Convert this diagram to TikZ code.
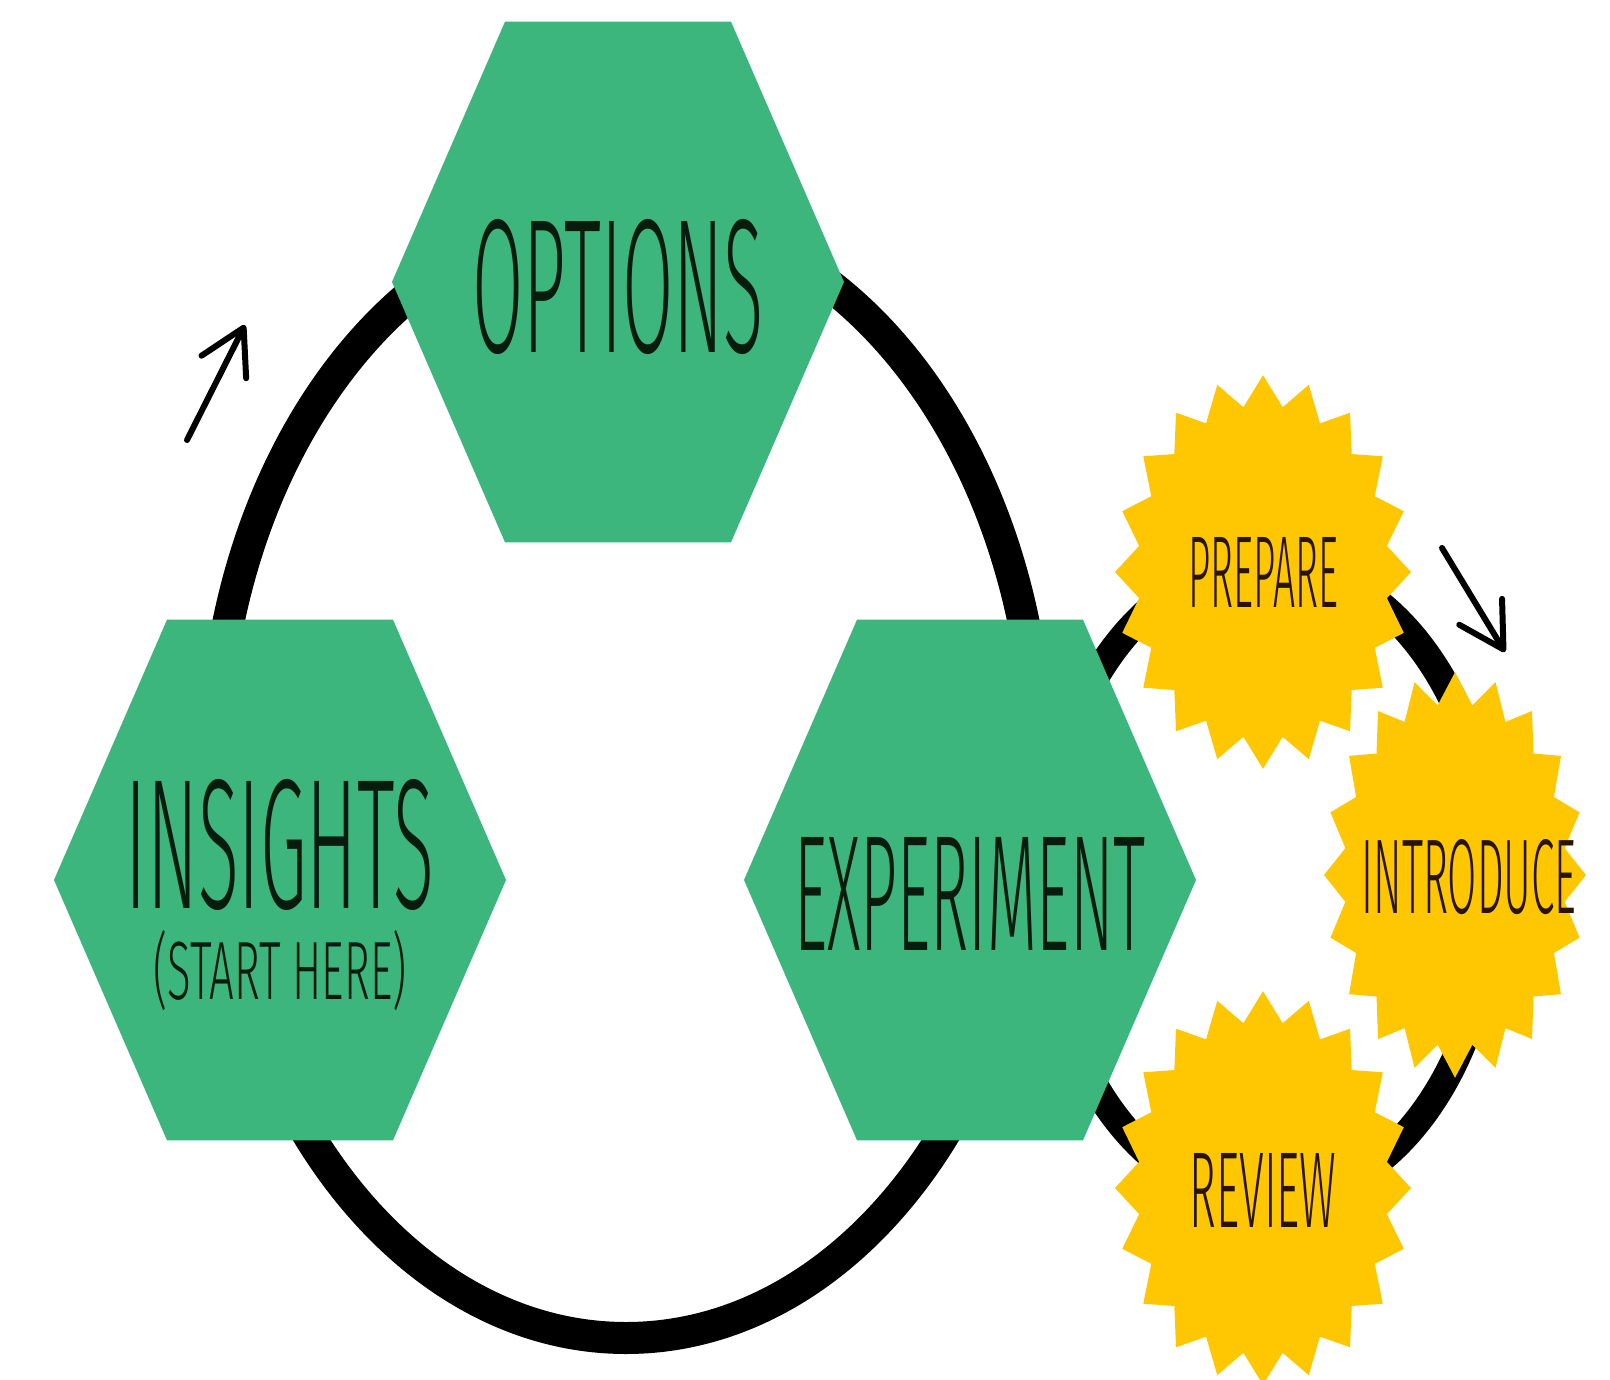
\documentclass[tikz,border=0pt]{standalone}
\usepackage{fontspec}
\setmainfont{Fira Sans}[UprightFont=* Light]
\usetikzlibrary{shapes.geometric,arrows.meta}
\definecolor{hexgreen}{RGB}{60,182,124}
\definecolor{staryellow}{RGB}{254,199,2}
\definecolor{hextext}{RGB}{8,28,14}
\definecolor{startext}{RGB}{40,20,0}
\begin{document}
\begin{tikzpicture}[x=0.5pt,y=0.5pt,
  hexnode/.style={regular polygon, regular polygon sides=6, fill=hexgreen,
    minimum size=226pt, inner sep=0pt, outer sep=0pt},
  starnode/.style={star, star points=20, star point ratio=1.18, fill=staryellow,
    minimum size=148pt, inner sep=0pt, outer sep=0pt},
  hexlabel/.style={inner sep=0pt, outer sep=0pt, text=hextext},
  starlabel/.style={inner sep=0pt, outer sep=0pt, text=startext},
  bigring/.style={line width=16pt, draw=black},
  smallring/.style={line width=14pt, draw=black},
  cue/.style={line width=3pt, line cap=round,
    -{Straight Barb[length=22pt,width=25pt,round]}}
]
\useasboundingbox (0,0) rectangle (1610,-1380);

% cycle rings (behind the shapes)
\coordinate (bigcentre) at (626,-775);
\draw[bigring] (bigcentre) ellipse [x radius=413, y radius=563];
\coordinate (smallcentre) at (1268,-882);
\draw[smallring] (smallcentre) ellipse [x radius=225, y radius=320];

% shapes (stretched vertically like the reference)
\begin{scope}[yscale=1.33, transform shape]
  \node[hexnode] (options) at (618,-212.0) {};
  \node[hexnode] (insights) at (280,-661.65) {};
  \node[hexnode] (experiment) at (970,-661.65) {};
  \node[starnode] (prepare) at (1263,-430.08) {};
  \begin{scope}[shift={(1455,-657.9)}, xscale=0.885, yscale=1.03]
    \node[starnode] (introduce) at (0,0) {};
  \end{scope}
  \node[starnode] (review) at (1263,-893.23) {};
\end{scope}

% labels
\node[hexlabel] (optionstext) at ([yshift=-2.75pt]options.center)
  {\resizebox{145.5pt}{66.5pt}{OPTIONS}};
\node[hexlabel] (insightstext) at ([yshift=17.75pt]insights.center)
  {\resizebox{154pt}{64.5pt}{INSIGHTS}};
\node[hexlabel] (insightsnote) at ([yshift=-45.25pt]insights.center)
  {\resizebox{126.5pt}{34.6pt}{(START HERE)}};
\node[hexlabel] (experimenttext) at ([yshift=-6.75pt]experiment.center)
  {\resizebox{175.5pt}{56.5pt}{EXPERIMENT}};
\node[starlabel] (preparetext) at (prepare.center)
  {\resizebox{75pt}{35pt}{PREPARE}};
\node[starlabel] (introducetext) at ([xshift=7pt,yshift=-1pt]introduce.center)
  {\resizebox{107.5pt}{37pt}{INTRODUCE}};
\node[starlabel] (reviewtext) at ([yshift=-1pt]review.center)
  {\resizebox{73.5pt}{37pt}{REVIEW}};

% direction cues
\coordinate (cueAtail) at (187,-440);
\coordinate (cueAtip) at (245,-325);
\draw[cue] (cueAtail) -- (cueAtip);
\coordinate (cueBtail) at (1442,-548);
\coordinate (cueBtip) at (1505,-652);
\draw[cue] (cueBtail) -- (cueBtip);
\end{tikzpicture}
\end{document}
